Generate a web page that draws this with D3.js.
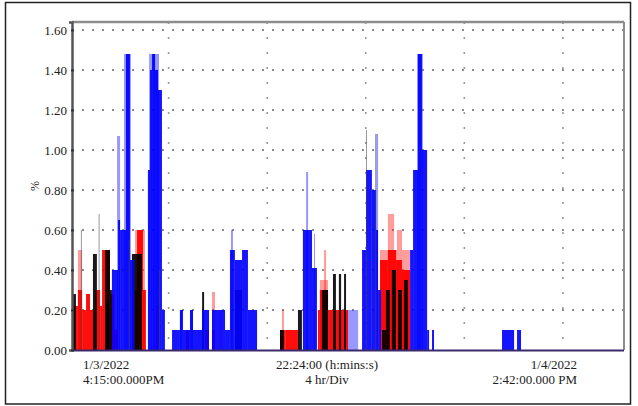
<!DOCTYPE html>
<html><head><meta charset="utf-8">
<script src="https://cdn.jsdelivr.net/npm/d3@7/dist/d3.min.js"></script>
<style>
html,body{margin:0;padding:0;background:#fff;}
svg{display:block;}
text{font-family:"Liberation Serif","Times New Roman",serif;fill:#222;}
</style></head>
<body>
<svg id="chart" width="638" height="406"></svg>
<script>
// ---- data (x in hours since 1/3/2022 4:15 PM, y in %) ----
const spanHours = 22.4;
const yTicks = [0, 0.2, 0.4, 0.6, 0.8, 1.0, 1.2, 1.4, 1.6];
const gridHours = [3.92, 7.92, 11.92, 15.92, 19.92];
const labelsLeft = ["1/3/2022", "4:15:00.000PM"];
const labelsCenter = ["22:24:00 (h:mins:s)", "4 hr/Div"];
const labelsRight = ["1/4/2022", "2:42:00.000 PM"];
const yTitle = "%";

// [startHour, endHour, value]
const redPeak = [[0.24,0.41,0.50],[2.56,2.96,0.60],[5.68,5.80,0.29],[6.01,6.09,0.20],[8.52,8.60,0.20],
  [10.23,10.31,0.50],[10.06,10.39,0.35],[12.50,12.82,0.50],[12.82,13.07,0.68],[13.07,13.19,0.50],
  [13.19,13.39,0.60],[13.39,13.72,0.50],[1.62,1.74,0.30]];
const redBase = [[0.00,0.24,0.22],[0.24,0.41,0.30],[0.41,0.57,0.20],[0.57,0.73,0.28],[0.73,0.93,0.20],
  [0.93,1.14,0.30],[1.14,1.22,0.22],[1.22,1.54,0.50],[1.54,1.70,0.28],[1.70,1.87,0.10],[2.56,2.64,0.30],[2.64,2.88,0.60],
  [2.88,3.00,0.30],[3.41,3.49,0.22],[4.63,4.75,0.10],[5.40,5.56,0.10],[5.68,5.80,0.10],
  [8.44,8.65,0.10],[8.65,9.17,0.10],[9.98,10.06,0.20],[10.06,10.39,0.30],[10.39,11.20,0.20],
  [12.50,12.82,0.45],[12.82,13.15,0.50],[13.15,13.39,0.45],[13.39,13.72,0.40]];
const blackSpikes = [[0.36,0.40,0.60],[1.08,1.12,0.68],[2.30,2.34,0.55],[11.93,11.97,1.10],[12.30,12.34,1.08],[3.53,3.57,0.40]];
const blackBase = [[0.00,0.16,0.28],[0.85,1.01,0.48],[1.34,1.54,0.50],[1.54,1.62,0.30],[2.43,2.84,0.48],
  [1.38,1.50,0.25],[5.28,5.36,0.29],[6.61,6.90,0.30],[8.44,8.60,0.10],[9.17,9.33,0.20],[10.14,10.39,0.30],
  [10.59,10.71,0.38],[10.83,10.92,0.38],[11.04,11.12,0.38],[12.58,12.74,0.10],[12.74,12.90,0.30],
  [12.98,13.15,0.40],[13.23,13.39,0.30],[13.47,13.63,0.35]];
const bluePeak = [[1.83,1.95,1.07],[2.11,2.39,1.48],[3.13,3.53,1.48],[4.38,4.50,0.20],[4.79,4.91,0.20],
  [6.45,6.53,0.60],[9.50,9.58,0.89],[9.82,9.86,0.58],[11.16,11.61,0.20],[12.34,12.42,1.08],[14.00,14.24,1.48]];
const blueBase = [[1.62,1.87,0.40],[1.87,1.95,0.65],[1.95,2.19,0.60],[2.19,2.35,1.48],[2.35,2.52,0.45],
  [3.08,3.17,0.90],[3.17,3.25,1.40],[3.25,3.37,1.48],[3.37,3.49,1.40],[3.49,3.65,1.30],[3.65,3.77,0.20],
  [4.06,4.30,0.10],[4.30,4.38,0.10],[4.38,4.50,0.20],[4.50,4.79,0.10],[4.79,4.91,0.20],[4.91,5.28,0.10],
  [5.28,5.56,0.20],[5.68,6.21,0.20],[6.21,6.41,0.10],[6.41,6.61,0.50],[6.61,6.90,0.45],[6.90,7.14,0.50],
  [7.14,7.51,0.20],[9.37,9.74,0.60],[9.74,9.94,0.41],[11.77,11.93,0.50],[11.93,12.17,0.90],
  [12.17,12.34,0.80],[12.34,12.42,0.60],[12.42,12.54,0.30],[13.72,13.84,0.50],[13.84,14.04,0.90],
  [14.04,14.20,1.48],[14.20,14.41,1.00],[14.41,14.49,0.10],[14.61,14.69,0.10],[17.45,17.94,0.10],
  [18.06,18.22,0.10]];

// ---- drawing ----
const svg = d3.select("#chart");
const L = 72, R = 624, T = 22, B = 350;
const x = d3.scaleLinear().domain([0, spanHours]).range([L, R]);
const y = d3.scaleLinear().domain([0, 1.64]).range([B, T]);

// outer frame
svg.append("rect").attr("x",5.5).attr("y",2.5).attr("width",625).attr("height",401.5)
  .attr("fill","none").attr("stroke","#222").attr("stroke-width",1.5);

// grid
const grid = svg.append("g");
grid.selectAll("line.h").data(yTicks.filter(d => d > 0)).join("line")
  .attr("x1", L).attr("x2", R).attr("y1", d => y(d)).attr("y2", d => y(d))
  .attr("stroke","#8a8a8a").attr("stroke-width",2).attr("stroke-dasharray","2,8");
grid.selectAll("line.v").data(gridHours).join("line")
  .attr("x1", d => x(d)).attr("x2", d => x(d)).attr("y1", T).attr("y2", B)
  .attr("stroke","#9a9a9a").attr("stroke-width",1.6).attr("stroke-dasharray","2,13");

// data
const defs = svg.append("defs");
defs.append("filter").attr("id","soft").append("feGaussianBlur").attr("stdDeviation",0.6);
const dg = svg.append("g").attr("filter","url(#soft)");
function bars(data, color, op) {
  dg.append("g").selectAll("rect").data(data).join("rect")
    .attr("x", d => x(d[0])).attr("width", d => Math.max(1, x(d[1]) - x(d[0])))
    .attr("y", d => y(d[2])).attr("height", d => y(0) - y(d[2]))
    .attr("fill", color).attr("fill-opacity", op);
}
bars(redPeak, "#ff2020", 0.45);
bars(bluePeak, "#3030ff", 0.5);
bars(redBase, "#ff0000", 0.95);
bars(blackBase, "#000000", 0.9);
bars(blueBase, "#0000ff", 0.92);
dg.append("g").selectAll("rect").data(blackSpikes).join("rect")
  .attr("x", d => x(d[0])).attr("width", d => Math.max(1, x(d[1]) - x(d[0])))
  .attr("y", d => y(d[2])).attr("height", d => y(0) - y(d[2]))
  .attr("fill", "#444").attr("fill-opacity", 0.55);

// plot frame
svg.append("line").attr("x1",L).attr("x2",R).attr("y1",T).attr("y2",T).attr("stroke","#8c8c8c").attr("stroke-width",2.5);
svg.append("line").attr("x1",R).attr("x2",R).attr("y1",T).attr("y2",B).attr("stroke","#8c8c8c").attr("stroke-width",2);
svg.append("line").attr("x1",L).attr("x2",R).attr("y1",B+0.5).attr("y2",B+0.5).attr("stroke","#3a2a6a").attr("stroke-width",2);

// y axis
const yAxis = svg.append("g").attr("transform", `translate(${L},0)`)
  .call(d3.axisLeft(y).tickValues(yTicks).tickFormat(d3.format(".2f")).tickSize(3).tickPadding(2));
yAxis.select(".domain").attr("stroke","#555").attr("stroke-width",2.5);
yAxis.selectAll(".tick line").attr("stroke","#333").attr("stroke-width",2).attr("x2",2).attr("x1",-1);
yAxis.selectAll("text").attr("font-size",13).attr("font-family","Liberation Serif").attr("fill","#222");

svg.append("text").attr("transform","translate(39,186) rotate(-90)").attr("text-anchor","middle")
  .attr("font-size",12).text(yTitle);

// bottom labels
const lb = svg.append("g").attr("font-size",13);
lb.selectAll("text.l").data(labelsLeft).join("text").attr("x",83).attr("y",(d,i)=>369+i*15).text(d=>d);
lb.selectAll("text.c").data(labelsCenter).join("text").attr("x",327).attr("y",(d,i)=>369+i*15)
  .attr("text-anchor","middle").text(d=>d);
lb.selectAll("text.r").data(labelsRight).join("text").attr("x",577).attr("y",(d,i)=>369+i*15)
  .attr("text-anchor","end").text(d=>d);
</script>
</body></html>
